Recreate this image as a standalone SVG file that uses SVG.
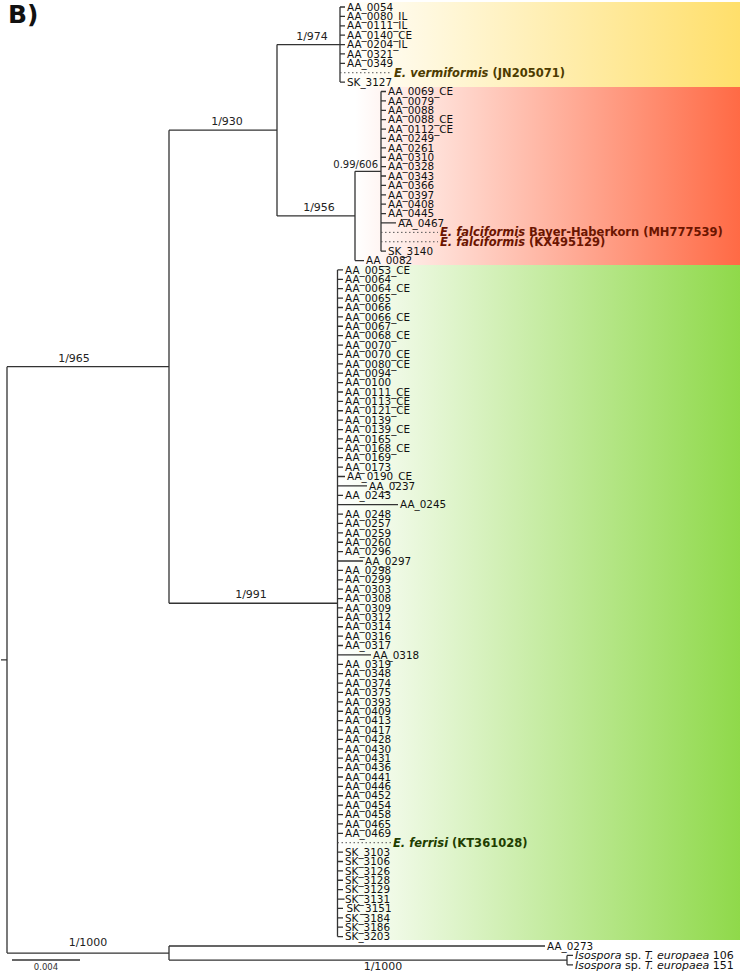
<svg xmlns="http://www.w3.org/2000/svg" width="740" height="973" viewBox="0 0 740 973">
<style>
.br{fill:none;stroke:#333;stroke-width:1.3}
.dot{fill:none;stroke:#555;stroke-width:1;stroke-dasharray:1.5 2.5}
text{font-family:"DejaVu Sans","Liberation Sans",sans-serif;fill:#111}
.lf{font-size:10.4px}
.sup{font-size:11px;text-anchor:middle;fill:#222}
.sp{font-size:11.5px;font-weight:bold}
.ye{fill:#4d3b00}.re{fill:#6b1500}.gr{fill:#1f3d00}
.it{font-style:italic}
</style>
<defs>
<linearGradient id="gY" x1="0" x2="1" y1="0" y2="0"><stop offset="0" stop-color="#fff"/><stop offset="1" stop-color="#ffdf6b"/></linearGradient>
<linearGradient id="gR" x1="0" x2="1" y1="0" y2="0"><stop offset="0" stop-color="#fff"/><stop offset="1" stop-color="#ff6a45"/></linearGradient>
<linearGradient id="gG" x1="0" x2="1" y1="0" y2="0"><stop offset="0" stop-color="#fff"/><stop offset="1" stop-color="#8fd94a"/></linearGradient>
</defs>
<rect width="740" height="973" fill="#fff"/>
<g id="clade-backgrounds">
<rect x="340" y="2" width="400" height="85" fill="url(#gY)"/>
<rect x="355" y="87" width="385" height="178" fill="url(#gR)"/>
<rect x="337" y="265" width="403" height="675" fill="url(#gG)"/>
</g>
<g id="title"><text x="8" y="23" style="font-size:25px;font-weight:bold" fill="#000">B)</text></g>
<g id="connectors">
<path class="br" d="M1,659.9H7M7,366.7V953.05M7,366.7H169M7,953.05H169M169,130.2V603.27M169,130.2H277M169,603.27H337.5M277,44.56V215.9M277,44.56H340M277,215.9H355M340,7V82.12M355,171.3V260.53M355,171.3H381M355,260.53H364M381,91.51V251.14M337.5,269.92V936.61M169,946V960.1M169,946H545M169,960.1H567M567,955.39V964.78M567,955.39H573M567,964.78H573"/>
<path class="br" d="M340,7H345M340,16.39H345M340,25.78H345M340,35.17H345M340,44.56H345M340,53.95H345M340,63.34H345M340,82.12H345"/>
<path class="br" d="M381,91.51H386M381,100.9H386M381,110.29H386M381,119.68H386M381,129.07H386M381,138.46H386M381,147.85H386M381,157.24H386M381,166.63H386M381,176.02H386M381,185.41H386M381,194.8H386M381,204.19H386M381,213.58H386M381,222.97H396M381,251.14H386"/>
<path class="br" d="M337.5,269.92H343M337.5,279.31H343M337.5,288.7H343M337.5,298.09H343M337.5,307.48H343M337.5,316.87H343M337.5,326.26H343M337.5,335.65H343M337.5,345.04H343M337.5,354.43H343M337.5,363.82H343M337.5,373.21H343M337.5,382.6H343M337.5,391.99H343M337.5,401.38H343M337.5,410.77H343M337.5,420.16H343M337.5,429.55H343M337.5,438.94H343M337.5,448.33H343M337.5,457.72H343M337.5,467.11H343M337.5,476.5H345M337.5,485.89H367M337.5,495.28H343M337.5,504.67H398M337.5,514.06H343M337.5,523.45H343M337.5,532.84H343M337.5,542.23H343M337.5,551.62H343M337.5,561.01H363M337.5,570.4H343M337.5,579.79H343M337.5,589.18H343M337.5,598.57H343M337.5,607.96H343M337.5,617.35H343M337.5,626.74H343M337.5,636.13H343M337.5,645.52H343M337.5,654.91H371M337.5,664.3H343M337.5,673.69H343M337.5,683.08H343M337.5,692.47H343M337.5,701.86H343M337.5,711.25H343M337.5,720.64H343M337.5,730.03H343M337.5,739.42H343M337.5,748.81H343M337.5,758.2H343M337.5,767.59H343M337.5,776.98H343M337.5,786.37H343M337.5,795.76H343M337.5,805.15H343M337.5,814.54H343M337.5,823.93H343M337.5,833.32H343M337.5,852.1H343M337.5,861.49H343M337.5,870.88H343M337.5,880.27H343M337.5,889.66H343M337.5,899.05H344.5M337.5,908.44H343M337.5,917.83H343M337.5,927.22H343M337.5,936.61H343"/>
<path class="dot" d="M340,72.73H392M381,232.36H438M381,241.75H438M337.5,842.71H391"/>
<path class="br" d="M12,960H80"/>
</g>
<g id="supports">
<g id="s-974"><text class="sup" x="312" y="39.5">1/974</text></g>
<g id="s-930"><text class="sup" x="227" y="125">1/930</text></g>
<g id="s-956"><text class="sup" x="319" y="211">1/956</text></g>
<g id="s-606"><text class="sup" x="378" y="167.5" style="text-anchor:end;font-size:10px">0.99/606</text></g>
<g id="s-965"><text class="sup" x="74" y="361.7">1/965</text></g>
<g id="s-991"><text class="sup" x="251" y="598">1/991</text></g>
<g id="s-1000a"><text class="sup" x="88" y="946">1/1000</text></g>
<g id="s-1000b"><text class="sup" x="383" y="970">1/1000</text></g>
<g id="scale"><text x="46" y="969.5" style="font-size:8.5px;text-anchor:middle;fill:#333">0.004</text></g>
</g>
<g id="yellow-clade">
<g id="AA_0054"><text class="lf" x="347" y="10.7">AA_0054</text></g>
<g id="AA_0080_IL"><text class="lf" x="347" y="20.09">AA_0080_IL</text></g>
<g id="AA_0111_IL"><text class="lf" x="347" y="29.48">AA_0111_IL</text></g>
<g id="AA_0140_CE"><text class="lf" x="347" y="38.87">AA_0140_CE</text></g>
<g id="AA_0204_IL"><text class="lf" x="347" y="48.26">AA_0204_IL</text></g>
<g id="AA_0321"><text class="lf" x="347" y="57.65">AA_0321</text></g>
<g id="AA_0349"><text class="lf" x="347" y="67.04">AA_0349</text></g>
<g id="E_vermiformis"><text class="sp ye" x="394" y="76.6"><tspan class="it">E. vermiformis</tspan> (JN205071)</text></g>
<g id="SK_3127"><text class="lf" x="347" y="85.82">SK_3127</text></g>
</g>
<g id="red-clade">
<g id="AA_0069_CE"><text class="lf" x="388" y="95.21">AA_0069_CE</text></g>
<g id="AA_0079"><text class="lf" x="388" y="104.6">AA_0079</text></g>
<g id="AA_0088"><text class="lf" x="388" y="113.99">AA_0088</text></g>
<g id="AA_0088_CE"><text class="lf" x="388" y="123.38">AA_0088_CE</text></g>
<g id="AA_0112_CE"><text class="lf" x="388" y="132.77">AA_0112_CE</text></g>
<g id="AA_0249"><text class="lf" x="388" y="142.16">AA_0249</text></g>
<g id="AA_0261"><text class="lf" x="388" y="151.55">AA_0261</text></g>
<g id="AA_0310"><text class="lf" x="388" y="160.94">AA_0310</text></g>
<g id="AA_0328"><text class="lf" x="388" y="170.33">AA_0328</text></g>
<g id="AA_0343"><text class="lf" x="388" y="179.72">AA_0343</text></g>
<g id="AA_0366"><text class="lf" x="388" y="189.11">AA_0366</text></g>
<g id="AA_0397"><text class="lf" x="388" y="198.5">AA_0397</text></g>
<g id="AA_0408"><text class="lf" x="388" y="207.89">AA_0408</text></g>
<g id="AA_0445"><text class="lf" x="388" y="217.28">AA_0445</text></g>
<g id="AA_0467"><text class="lf" x="398" y="226.67">AA_0467</text></g>
<g id="E_falciformis_BH"><text class="sp re" x="440" y="236.2"><tspan class="it">E. falciformis</tspan> Bayer-Haberkorn (MH777539)</text></g>
<g id="E_falciformis_KX"><text class="sp re" x="440" y="245.6"><tspan class="it">E. falciformis</tspan> (KX495129)</text></g>
<g id="SK_3140"><text class="lf" x="388" y="254.84">SK_3140</text></g>
<g id="AA_0082"><text class="lf" x="366" y="264.23">AA_0082</text></g>
</g>
<g id="green-clade">
<g id="AA_0053_CE"><text class="lf" x="345" y="273.62">AA_0053_CE</text></g>
<g id="AA_0064"><text class="lf" x="345" y="283.01">AA_0064</text></g>
<g id="AA_0064_CE"><text class="lf" x="345" y="292.4">AA_0064_CE</text></g>
<g id="AA_0065"><text class="lf" x="345" y="301.79">AA_0065</text></g>
<g id="AA_0066"><text class="lf" x="345" y="311.18">AA_0066</text></g>
<g id="AA_0066_CE"><text class="lf" x="345" y="320.57">AA_0066_CE</text></g>
<g id="AA_0067"><text class="lf" x="345" y="329.96">AA_0067</text></g>
<g id="AA_0068_CE"><text class="lf" x="345" y="339.35">AA_0068_CE</text></g>
<g id="AA_0070"><text class="lf" x="345" y="348.74">AA_0070</text></g>
<g id="AA_0070_CE"><text class="lf" x="345" y="358.13">AA_0070_CE</text></g>
<g id="AA_0080_CE"><text class="lf" x="345" y="367.52">AA_0080_CE</text></g>
<g id="AA_0094"><text class="lf" x="345" y="376.91">AA_0094</text></g>
<g id="AA_0100"><text class="lf" x="345" y="386.3">AA_0100</text></g>
<g id="AA_0111_CE"><text class="lf" x="345" y="395.69">AA_0111_CE</text></g>
<g id="AA_0113_CE"><text class="lf" x="345" y="405.08">AA_0113_CE</text></g>
<g id="AA_0121_CE"><text class="lf" x="345" y="414.47">AA_0121_CE</text></g>
<g id="AA_0139"><text class="lf" x="345" y="423.86">AA_0139</text></g>
<g id="AA_0139_CE"><text class="lf" x="345" y="433.25">AA_0139_CE</text></g>
<g id="AA_0165"><text class="lf" x="345" y="442.64">AA_0165</text></g>
<g id="AA_0168_CE"><text class="lf" x="345" y="452.03">AA_0168_CE</text></g>
<g id="AA_0169"><text class="lf" x="345" y="461.42">AA_0169</text></g>
<g id="AA_0173"><text class="lf" x="345" y="470.81">AA_0173</text></g>
<g id="AA_0190_CE"><text class="lf" x="347" y="480.2">AA_0190_CE</text></g>
<g id="AA_0237"><text class="lf" x="369" y="489.59">AA_0237</text></g>
<g id="AA_0243"><text class="lf" x="345" y="498.98">AA_0243</text></g>
<g id="AA_0245"><text class="lf" x="400" y="508.37">AA_0245</text></g>
<g id="AA_0248"><text class="lf" x="345" y="517.76">AA_0248</text></g>
<g id="AA_0257"><text class="lf" x="345" y="527.15">AA_0257</text></g>
<g id="AA_0259"><text class="lf" x="345" y="536.54">AA_0259</text></g>
<g id="AA_0260"><text class="lf" x="345" y="545.93">AA_0260</text></g>
<g id="AA_0296"><text class="lf" x="345" y="555.32">AA_0296</text></g>
<g id="AA_0297"><text class="lf" x="365" y="564.71">AA_0297</text></g>
<g id="AA_0298"><text class="lf" x="345" y="574.1">AA_0298</text></g>
<g id="AA_0299"><text class="lf" x="345" y="583.49">AA_0299</text></g>
<g id="AA_0303"><text class="lf" x="345" y="592.88">AA_0303</text></g>
<g id="AA_0308"><text class="lf" x="345" y="602.27">AA_0308</text></g>
<g id="AA_0309"><text class="lf" x="345" y="611.66">AA_0309</text></g>
<g id="AA_0312"><text class="lf" x="345" y="621.05">AA_0312</text></g>
<g id="AA_0314"><text class="lf" x="345" y="630.44">AA_0314</text></g>
<g id="AA_0316"><text class="lf" x="345" y="639.83">AA_0316</text></g>
<g id="AA_0317"><text class="lf" x="345" y="649.22">AA_0317</text></g>
<g id="AA_0318"><text class="lf" x="373" y="658.61">AA_0318</text></g>
<g id="AA_0319"><text class="lf" x="345" y="668">AA_0319</text></g>
<g id="AA_0348"><text class="lf" x="345" y="677.39">AA_0348</text></g>
<g id="AA_0374"><text class="lf" x="345" y="686.78">AA_0374</text></g>
<g id="AA_0375"><text class="lf" x="345" y="696.17">AA_0375</text></g>
<g id="AA_0393"><text class="lf" x="345" y="705.56">AA_0393</text></g>
<g id="AA_0409"><text class="lf" x="345" y="714.95">AA_0409</text></g>
<g id="AA_0413"><text class="lf" x="345" y="724.34">AA_0413</text></g>
<g id="AA_0417"><text class="lf" x="345" y="733.73">AA_0417</text></g>
<g id="AA_0428"><text class="lf" x="345" y="743.12">AA_0428</text></g>
<g id="AA_0430"><text class="lf" x="345" y="752.51">AA_0430</text></g>
<g id="AA_0431"><text class="lf" x="345" y="761.9">AA_0431</text></g>
<g id="AA_0436"><text class="lf" x="345" y="771.29">AA_0436</text></g>
<g id="AA_0441"><text class="lf" x="345" y="780.68">AA_0441</text></g>
<g id="AA_0446"><text class="lf" x="345" y="790.07">AA_0446</text></g>
<g id="AA_0452"><text class="lf" x="345" y="799.46">AA_0452</text></g>
<g id="AA_0454"><text class="lf" x="345" y="808.85">AA_0454</text></g>
<g id="AA_0458"><text class="lf" x="345" y="818.24">AA_0458</text></g>
<g id="AA_0465"><text class="lf" x="345" y="827.63">AA_0465</text></g>
<g id="AA_0469"><text class="lf" x="345" y="837.02">AA_0469</text></g>
<g id="E_ferrisi"><text class="sp gr" x="393" y="846.7"><tspan class="it">E. ferrisi</tspan> (KT361028)</text></g>
<g id="SK_3103"><text class="lf" x="345" y="855.8">SK_3103</text></g>
<g id="SK_3106"><text class="lf" x="345" y="865.19">SK_3106</text></g>
<g id="SK_3126"><text class="lf" x="345" y="874.58">SK_3126</text></g>
<g id="SK_3128"><text class="lf" x="345" y="883.97">SK_3128</text></g>
<g id="SK_3129"><text class="lf" x="345" y="893.36">SK_3129</text></g>
<g id="SK_3131"><text class="lf" x="345" y="902.75">SK_3131</text></g>
<g id="SK_3151"><text class="lf" x="346.5" y="912.14">SK_3151</text></g>
<g id="SK_3184"><text class="lf" x="345" y="921.53">SK_3184</text></g>
<g id="SK_3186"><text class="lf" x="345" y="930.92">SK_3186</text></g>
<g id="SK_3203"><text class="lf" x="345" y="940.31">SK_3203</text></g>
</g>
<g id="outgroup">
<g id="AA_0273"><text class="lf" x="547" y="949.7">AA_0273</text></g>
<g id="Isospora_106"><text class="lf" x="575" y="959.3" style="font-size:11px"><tspan class="it">Isospora</tspan> sp. <tspan class="it">T. europaea</tspan> 106</text></g>
<g id="Isospora_151"><text class="lf" x="575" y="968.7" style="font-size:11px"><tspan class="it">Isospora</tspan> sp. <tspan class="it">T. europaea</tspan> 151</text></g>
</g>
</svg>
